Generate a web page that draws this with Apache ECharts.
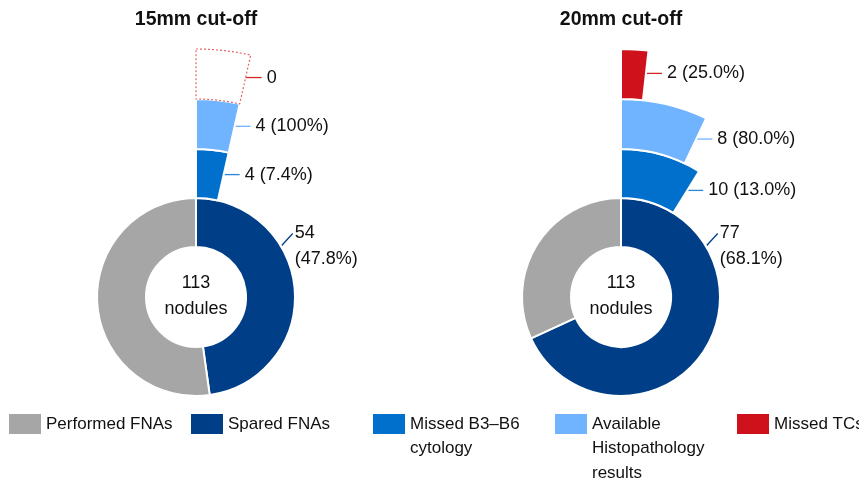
<!DOCTYPE html>
<html>
<head>
<meta charset="utf-8">
<script src="https://cdn.jsdelivr.net/npm/echarts@6/dist/echarts.min.js"></script>
<style>
html,body{margin:0;padding:0;background:#fff}
#chart{width:859px;height:482px}
</style>
</head>
<body>
<div id="chart"></div>
<script>
// ---- data ----
var cutoffs = ['15mm cut-off', '20mm cut-off'];
var totalNodules = [113, 113];
var sparedFNAs = [54, 77];
var performedFNAs = [59, 36];
var missedCytology = [4, 10];
var availableHisto = [4, 8];
var missedTCs = [0, 2];
var legendNames = ['Performed FNAs', 'Spared FNAs', 'Missed B3–B6 cytology', 'Available Histopathology results', 'Missed TCs'];
var legendLabels = ['Performed FNAs', 'Spared FNAs', 'Missed B3–B6\ncytology', 'Available\nHistopathology\nresults', 'Missed TCs'];

// ---- style / layout ----
var FONT = '"Liberation Sans", Arial, sans-serif';
var COLORS = {
	'Performed FNAs': '#a6a6a6',
	'Spared FNAs': '#003f88',
	'Missed B3–B6 cytology': '#0070cc',
	'Available Histopathology results': '#70b4ff',
	'Missed TCs': '#cf111b'
};
var LINE_COLORS = ['#003f88', '#2a86d9', '#70b4ff', '#d22a2a'];
var CENTERS = [[196, 297], [621, 297]];
var RINGS = [[50, 99], [99, 148], [148, 198], [198, 248]];

function pctText(part, whole){
	if(part === 0) return '0';
	var p = part / whole * 100;
	return part + ' (' + (p === 100 ? '100' : p.toFixed(1)) + '%)';
}

var labelBase = {show:true, position:'outside', color:'#111', fontSize:18, fontFamily:FONT, lineHeight:26};

//外圈：每一圈一个饼图，其余部分透明
function ringSeries(i, level, span, name, text, dashed){
	var c = CENTERS[i], r = RINGS[level], total = totalNodules[i];
	var mark = dashed ?
		{color:'rgba(0,0,0,0)', borderColor:'#e46a6a', borderType:[2,2], borderWidth:1.2} :
		{color:COLORS[name], borderColor:'#fff', borderWidth:2};
	return {
		type:'pie', center:c, radius:r, startAngle:90, clockwise:true,
		avoidLabelOverlap:false, silent:true, animation:false,
		labelLine:{show:true, length:4, length2:4, lineStyle:{color:LINE_COLORS[level], width:1.3}},
		data:[
			{name:name, value:span, itemStyle:mark, label:Object.assign({formatter:text}, labelBase)},
			{name:'', value:total - span, itemStyle:{color:'rgba(0,0,0,0)', borderWidth:0}, label:{show:false}, labelLine:{show:false}}
		],
		labelLayout:function(p){
			if(p.dataIndex !== 0) return {};
			var th = span / total * 2 * Math.PI;
			var rm = (r[0] + r[1]) / 2 + 2;
			var x0 = c[0] + rm * Math.sin(th), y0 = c[1] - rm * Math.cos(th);
			return {x:x0 + 21, y:y0, align:'left', verticalAlign:'middle',
				labelLinePoints:[[x0, y0], [x0 + 8, y0], [x0 + 16, y0]]};
		}
	};
}

function innerSeries(i){
	var c = CENTERS[i], r = RINGS[0], total = totalNodules[i];
	var txt = sparedFNAs[i] + '\n(' + (sparedFNAs[i] / total * 100).toFixed(1) + '%)';
	return {
		type:'pie', center:c, radius:r, startAngle:90, clockwise:true,
		avoidLabelOverlap:false, silent:true, animation:false,
		labelLine:{show:true, length:4, length2:4, lineStyle:{color:LINE_COLORS[0], width:1.3}},
		data:[
			{name:'Spared FNAs', value:sparedFNAs[i], itemStyle:{color:COLORS['Spared FNAs'], borderColor:'#fff', borderWidth:2},
				label:Object.assign({formatter:txt}, labelBase)},
			{name:'Performed FNAs', value:performedFNAs[i], itemStyle:{color:COLORS['Performed FNAs'], borderColor:'#fff', borderWidth:2},
				label:{show:false}, labelLine:{show:false}}
		],
		labelLayout:function(p){
			if(p.dataIndex !== 0) return {};
			var a = 59 / 180 * Math.PI;
			var x0 = c[0] + (r[1] + 1) * Math.sin(a), y0 = c[1] - (r[1] + 1) * Math.cos(a);
			return {x:x0 + 13, y:y0 - 25, align:'left', verticalAlign:'top',
				labelLinePoints:[[x0, y0], [x0 + 5, y0 - 5.5], [x0 + 11, y0 - 12]]};
		}
	};
}

var series = [], titles = [];
for(var i = 0; i < cutoffs.length; i++){
	series.push(innerSeries(i));
	series.push(ringSeries(i, 1, missedCytology[i], 'Missed B3–B6 cytology', pctText(missedCytology[i], sparedFNAs[i])));
	series.push(ringSeries(i, 2, availableHisto[i], 'Available Histopathology results', pctText(availableHisto[i], missedCytology[i])));
	//0 的时候画虚线框
	var tcSpan = missedTCs[i] === 0 ? availableHisto[i] : missedTCs[i];
	series.push(ringSeries(i, 3, tcSpan, 'Missed TCs', pctText(missedTCs[i], availableHisto[i]), missedTCs[i] === 0));

	titles.push({text:cutoffs[i], left:CENTERS[i][0], top:10, textAlign:'center', padding:0,
		textStyle:{fontFamily:FONT, fontSize:19.5, fontWeight:'bold', color:'#111'}});
	titles.push({text:totalNodules[i] + '\nnodules', left:CENTERS[i][0], top:CENTERS[i][1] - 27, textAlign:'center', padding:0,
		textStyle:{fontFamily:FONT, fontSize:18, fontWeight:'normal', color:'#111', lineHeight:26}});
}

// 多行图例：前面补空行，让第一行和色块对齐
var LEG_LH = 24.5;
var legends = legendNames.map(function(n, k){
	var lines = legendLabels[k].split('\n').length;
	var txt = new Array(lines).join('\n') + legendLabels[k];
	var off = Math.max(0, (2 * lines - 1) * LEG_LH / 2 - 10);
	return {
		data:[{name:n, itemStyle:{color:COLORS[n], borderWidth:0}}],
		left:9 + k * 182, top:414 - off, padding:0,
		icon:'rect', itemWidth:32, itemHeight:20, selectedMode:false,
		formatter:function(){ return txt; },
		textStyle:{fontFamily:FONT, fontSize:17, color:'#111', lineHeight:LEG_LH}
	};
});

var myChart = echarts.init(document.getElementById('chart'));
myChart.setOption({
	backgroundColor:'#fff',
	animation:false,
	title:titles,
	legend:legends,
	series:series
});
</script>
</body>
</html>
